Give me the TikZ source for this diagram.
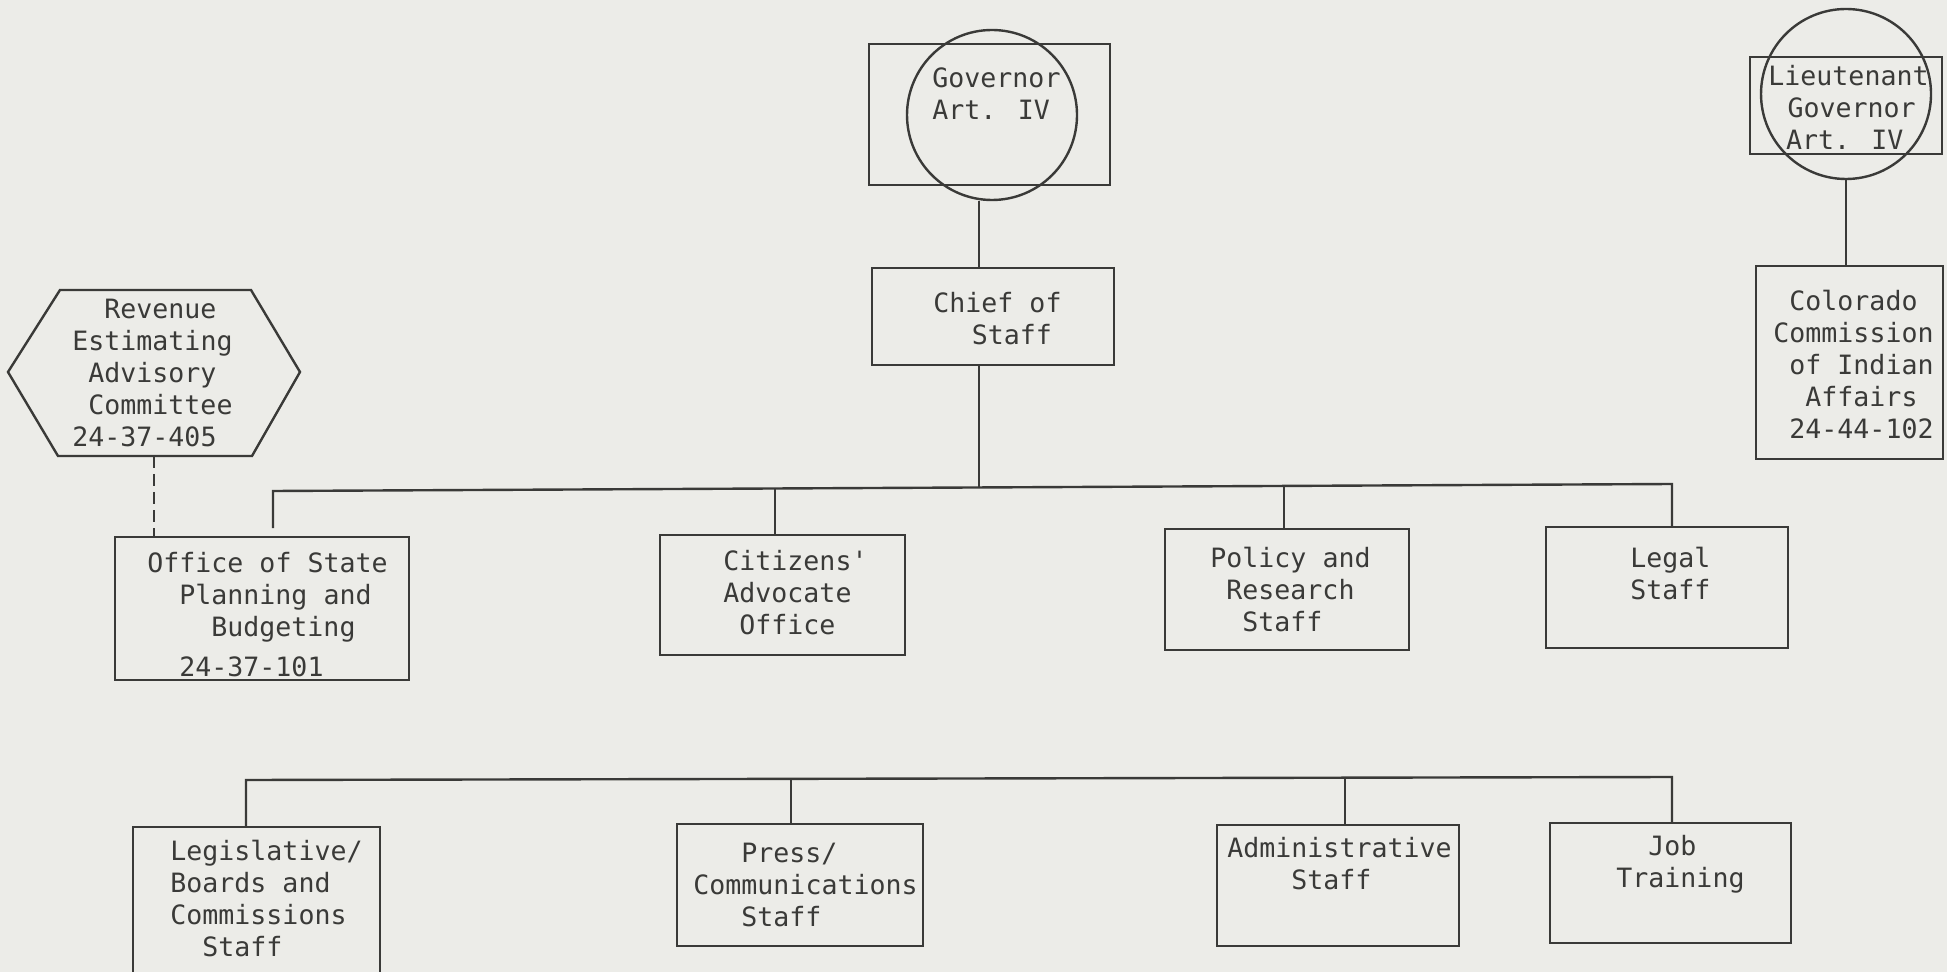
\documentclass[tikz,border=0pt]{standalone}
\usepackage{fontspec}
\usetikzlibrary{fit}
\newfontfamily\twfont{DejaVu Sans Mono}
\newcommand\tw{\twfont\fontsize{13.3pt}{16pt}\selectfont}
\newlength\cw \setlength\cw{8pt}
\newcommand\tind[1]{\hspace*{#1\cw}}
\newcommand\st{\rule[-4.8pt]{0pt}{16pt}}
\definecolor{paper}{RGB}{236,236,232}
\definecolor{ink}{RGB}{58,58,56}
\tikzset{
  ln/.style={draw=ink, line width=1.2pt},
  box/.style={ln, rectangle, inner sep=0pt},
  circ/.style={ln, circle, inner sep=0pt, minimum size=85pt},
  txt/.style={anchor=north west, inner sep=0pt, align=left, font=\tw, text=ink, yshift=11.2pt},
  dashln/.style={ln, dash pattern=on 6pt off 3pt}
}
\begin{document}
\begin{tikzpicture}[x=0.5pt, y=-0.5pt]
\fill[paper] (0,0) rectangle (1947,972);
\useasboundingbox (0,0) rectangle (1947,972);

% Governor
\node[box, fit={(869,44) (1110,185)}] (gov) {};
\node[circ] (govc) at (992,115) {};
\node[txt] (govt) at (932,87) {\st Governor\\\st Art. IV};

% Chief of Staff
\node[box, fit={(872,268) (1114,365)}] (chief) {};
\node[txt] (chieft) at (933,312) {\st Chief of\\\st\tind{2.4}Staff};

% Lieutenant Governor
\node[box, fit={(1750,57) (1942,154)}] (lt) {};
\node[circ] (ltc) at (1846,94) {};
\node[txt] (ltt) at (1768,85) {\st Lieutenant\\\st\tind{1.2}Governor\\\st\tind{1.1}Art. IV};

% Colorado Commission of Indian Affairs
\node[box, fit={(1756,266) (1943,459)}] (col) {};
\node[txt] (colt) at (1773,310) {\st\tind{1}Colorado\\\st Commission\\\st\tind{1}of Indian\\\st\tind{2}Affairs\\\st\tind{1}24-44-102};

% Revenue Estimating Advisory Committee (hexagon)
\coordinate (h1) at (60,290);
\coordinate (h2) at (251,290);
\coordinate (h3) at (300,372);
\coordinate (h4) at (252,456);
\coordinate (h5) at (58,456);
\coordinate (h6) at (8,372);
\coordinate (hexB) at (154,456);
\draw[ln] (h1) -- (h2) -- (h3) -- (h4) -- (h5) -- (h6) -- cycle;
\node[txt] (hext) at (72,318) {\st\tind{2}Revenue\\\st Estimating\\\st\tind{1}Advisory\\\st\tind{1}Committee\\\st 24-37-405};

% Office of State Planning and Budgeting
\node[box, fit={(115,537) (409,680)}] (ospb) {};
\node[txt] (ospbt) at (147,572) {\st Office of State\\\st\tind{2}Planning and\\\st\tind{4}Budgeting\\[4pt]\st\tind{2}24-37-101};

% Citizens' Advocate Office
\node[box, fit={(660,535) (905,655)}] (cit) {};
\node[txt] (citt) at (723,570) {\st Citizens'\\\st Advocate\\\st\tind{1}Office};

% Policy and Research Staff
\node[box, fit={(1165,529) (1409,650)}] (pol) {};
\node[txt] (polt) at (1210,567) {\st Policy and\\\st\tind{1}Research\\\st\tind{2}Staff};

% Legal Staff
\node[box, fit={(1546,527) (1788,648)}] (leg) {};
\node[txt] (legt) at (1630,567) {\st Legal\\\st Staff};

% Bottom row
\node[box, fit={(133,827) (380,995)}] (lgs) {};
\node[txt] (lgst) at (170,860) {\st Legislative/\\\st Boards and\\\st Commissions\\\st\tind{2}Staff};

\node[box, fit={(677,824) (923,946)}] (press) {};
\node[txt] (presst) at (693,862) {\st\tind{3}Press/\\\st Communications\\\st\tind{3}Staff};

\node[box, fit={(1217,825) (1459,946)}] (adm) {};
\node[txt] (admt) at (1227,857) {\st Administrative\\\st\tind{4}Staff};

\node[box, fit={(1550,823) (1791,943)}] (job) {};
\node[txt] (jobt) at (1616,855) {\st\tind{2}Job\\\st Training};

% Connectors: Governor -> Chief of Staff
\coordinate (cx) at (979,0);
\draw[ln] (govc.south -| cx) -- (chief.north -| cx);

% Top bus
\coordinate (jO) at (273,491);
\coordinate (jOe) at (273,528);
\coordinate (jC) at (775,488.5);
\coordinate (jCh) at (979,487.5);
\coordinate (jP) at (1284,486);
\coordinate (jL) at (1672,484);
\draw[ln] (jOe) -- (jO) -- (jL) -- (leg.north -| jL);
\draw[ln] (chief.south -| cx) -- (jCh);
\draw[ln] (jC) -- (cit.north -| jC);
\draw[ln] (jP) -- (pol.north -| jP);

% Revenue committee -> OSPB (dashed)
\draw[dashln] (hexB) -- (ospb.north -| hexB);

% Lieutenant Governor -> Colorado Commission
\draw[ln] (ltc.south) -- (col.north -| ltc.south);

% Bottom bus
\coordinate (kL) at (246,780);
\coordinate (kP) at (791,778.9);
\coordinate (kA) at (1345,777.7);
\coordinate (kJ) at (1672,777);
\draw[ln] (lgs.north -| kL) -- (kL) -- (kJ) -- (job.north -| kJ);
\draw[ln] (kP) -- (press.north -| kP);
\draw[ln] (kA) -- (adm.north -| kA);
\end{tikzpicture}
\end{document}
